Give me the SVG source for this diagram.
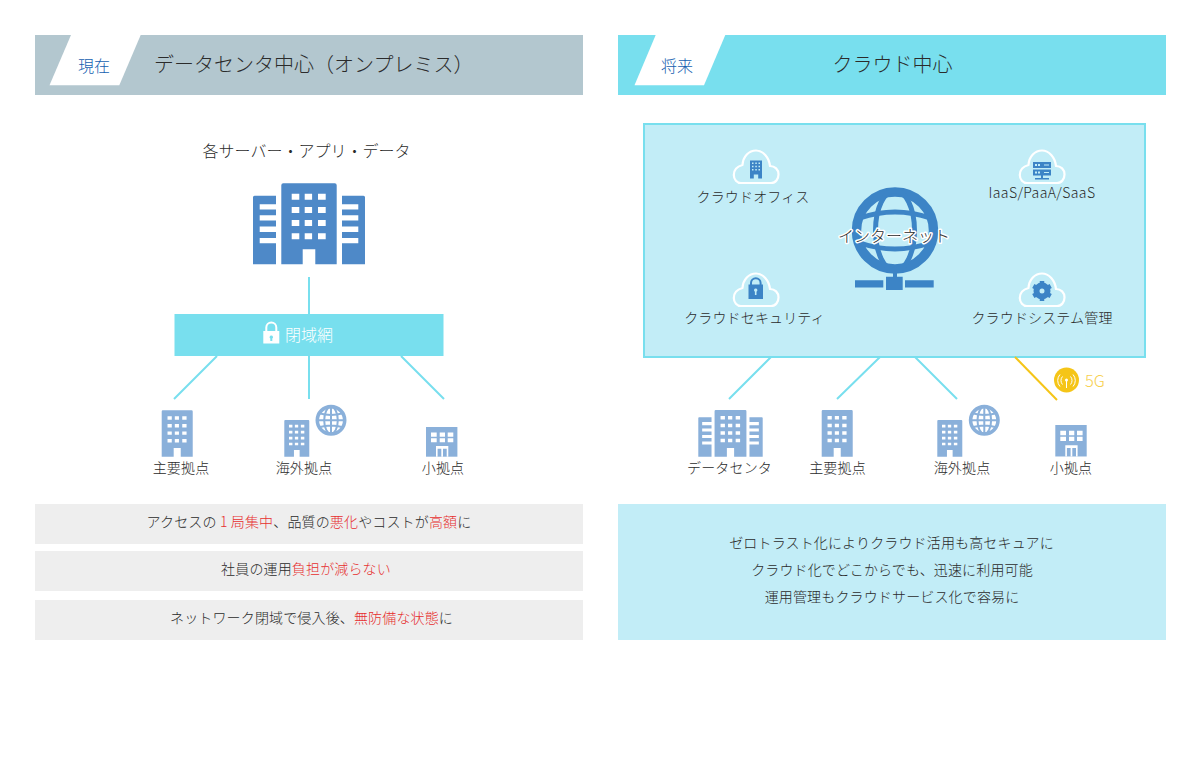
<svg xmlns="http://www.w3.org/2000/svg" width="1200" height="768" viewBox="0 0 1200 768">
<style>
text{font-family:"Noto Sans CJK JP","Noto Sans",sans-serif;font-weight:300;fill:#2b2b2b}
.m{text-anchor:middle}
.t14{font-size:14px;letter-spacing:.15px}
.t16{font-size:16px}
.t20{font-size:20px}
.tab{font-size:16px;fill:#1560b0;text-anchor:middle}
.red{fill:#e62e2e}
.c{stroke:#78dfee;stroke-width:2;fill:none}
.cloud{fill:none;stroke:#fff;stroke-width:2.2;stroke-linejoin:round}
.ic{fill:#3c84c6}
</style>
<defs>
<g id="tower">
<path d="M2 0H53.400Q55.400 0 55.400 2V81H34V66H21.400V81H0V2Q0 0 2 0Z"/>
<path fill="#fff" d="M10.400 10.500h7.600v6h-7.600zM23.400 10.500h7.400v6h-7.400zM36.700 10.500h7.700v6h-7.700zM10.400 23.800h7.600v6h-7.600zM23.400 23.800h7.400v6h-7.400zM36.700 23.800h7.700v6h-7.700zM10.400 36.800h7.600v6h-7.600zM23.400 36.800h7.400v6h-7.400zM36.700 36.800h7.700v6h-7.700zM10.400 50h7.600v6h-7.600zM23.400 50h7.400v6h-7.400zM36.700 50h7.700v6h-7.700z"/>
</g>
<g id="dc">
<use href="#tower" x="28.300"/>
<path d="M1.500 12.500H23V21H6.700V26.300H23V32H6.700V37.300H23V43.300H6.700V48.700H23V54.700H6.700V60H23V81H0V14Q0 12.500 1.500 12.500Z"/>
<path d="M89 12.500H110.500Q112 12.500 112 14V81H89V60H105.300V54.700H89V48.700H105.300V43.300H89V37.300H105.300V32H89V26.300H105.300V21H89Z"/>
</g>
<g id="small">
<path d="M0 0H31.400V29.700H0Z"/>
<path fill="#fff" d="M5 5.500h5.700v4.200h-5.700zM13.700 5.500h5.300v4.200h-5.300zM21.700 5.500h5.600v4.200h-5.600zM5 11.200h5.700v4h-5.700zM13.700 11.200h5.300v4h-5.300zM21.700 11.200h5.600v4h-5.600zM10 19H22.300V29.700H20.700V21.700H17V29.700H15.300V21.700H11.600V29.700H10Z"/>
</g>
<g id="globe">
<circle r="13.700" fill="#fff" stroke="#8ab0da" stroke-width="3.600"/>
<g fill="none" stroke="#8ab0da" stroke-width="2">
<ellipse rx="6.800" ry="13.500"/>
<path d="M0-14V14M-14 0H14M-12-7Q0-3.500 12-7M-12 7Q0 3.500 12 7"/>
</g>
</g>
<path id="cl" d="M8 33.500H38C43 33.500 45.500 29 45.500 25C45.500 20 42 16.500 37 16.500C36 8 30 1 23 1C16 1 10 7 9.500 15.500C4 17 .8 21 .8 25.500C.8 30 4 33.500 8 33.500Z"/>
</defs>

<g id="left-header">
<rect x="35" y="35" width="548" height="60" fill="#b3c7cf"/>
<polygon points="71,35 140.700,35 119.300,85.300 49.500,85.300" fill="#fff"/>
<text class="tab" x="94" y="72">現在</text>
<text class="t20" x="154" y="72">データセンタ中心（オンプレミス）</text>
</g>
<g id="right-header">
<rect x="618" y="35" width="548" height="60" fill="#78dfee"/>
<polygon points="655.700,35 725.300,35 704,85.300 634.500,85.300" fill="#fff"/>
<text class="tab" x="677" y="72">将来</text>
<text class="t20 m" x="892.500" y="72">クラウド中心</text>
</g>

<g id="cloud-panel-bg">
<rect x="644" y="124" width="501" height="233" fill="#c2edf7" stroke="#78dfee" stroke-width="2"/>
</g>

<g id="connectors">
<path class="c" d="M309 277V314M309 356V399M217 356L174 399M401 356L444 399"/>
<path class="c" d="M771 357L729 399M880 357L837 399M915 357L957 399"/>
<path d="M1015 357L1057 400" fill="none" stroke="#f5c518" stroke-width="2"/>
</g>

<g id="servers">
<text class="t16 m" x="306.500" y="157">各サーバー・アプリ・データ</text>
<use href="#dc" transform="translate(253 183.300)" fill="#4e89c8"/>
</g>

<g id="closed-network">
<rect x="174.500" y="314" width="269" height="42" fill="#78dfee"/>
<path fill="#fff" fill-rule="evenodd" d="M263.300 331H279.300V343.500H263.300ZM271.300 335.500a1.700 1.700 0 0 0-1 3.100V341h2V338.600a1.700 1.700 0 0 0-1-3.100Z"/>
<path d="M266.300 331V327.500a5 5 0 0 1 10 0V331" fill="none" stroke="#fff" stroke-width="2"/>
<text class="t16" x="285" y="341" style="fill:#fff">閉域網</text>
</g>

<g id="left-main">
<use href="#tower" transform="translate(161.700 410.300) scale(.56 .573)" fill="#8ab0da"/>
<text class="t14 m" x="181" y="473">主要拠点</text>
</g>
<g id="left-overseas">
<use href="#tower" transform="translate(284.300 420) scale(.451 .453)" fill="#8ab0da"/>
<use href="#globe" transform="translate(331 420.300)"/>
<text class="t14 m" x="304" y="473">海外拠点</text>
</g>
<g id="left-small">
<use href="#small" transform="translate(426 427)" fill="#8ab0da"/>
<text class="t14 m" x="443" y="473">小拠点</text>
</g>

<g id="internet">
<circle cx="895" cy="230.500" r="38.500" fill="none" stroke="#3c84c6" stroke-width="9.500"/>
<ellipse cx="895" cy="230.500" rx="19.500" ry="40" fill="none" stroke="#3c84c6" stroke-width="5"/>
<path d="M860 218Q895 206 930 218M860 243Q895 255 930 243" fill="none" stroke="#3c84c6" stroke-width="5"/>
<path class="ic" d="M893 268H897V276.700H902.700V290H886V276.700H893ZM855 280.300H883.300V287.500H855ZM905 280.300H933.700V287.500H905Z"/>
<text class="t16 m" x="894" y="242" style="stroke:#fff;stroke-width:3px;paint-order:stroke;stroke-linejoin:round">インターネット</text>
</g>

<g id="cloud-office">
<use href="#cl" transform="translate(733 149.500)" class="cloud"/>
<path class="ic" d="M750 160.500H762V178.500H758.200V174.500H753.800V178.500H750Z"/>
<path fill="#c2edf7" d="M752 162.500h1.500v1.500h-1.500zM755.300 162.500h1.500v1.500h-1.500zM758.500 162.500h1.500v1.500h-1.500zM752 165.700h1.500v1.500h-1.500zM755.300 165.700h1.500v1.500h-1.500zM758.500 165.700h1.500v1.500h-1.500zM752 169h1.500v1.500h-1.500zM755.300 169h1.500v1.500h-1.500zM758.500 169h1.500v1.500h-1.500z"/>
<text class="t14 m" x="753" y="202">クラウドオフィス</text>
</g>
<g id="cloud-iaas">
<use href="#cl" transform="translate(1019 149.500)" class="cloud"/>
<path class="ic" d="M1033 162H1051V168H1033ZM1033 169.500H1051V175.500H1033ZM1041 175.500H1043V178H1049V179.500H1035V178H1041Z"/>
<path fill="#c2edf7" d="M1035 164h2v2h-2zM1038 164h2v2h-2zM1044 164.500h5v1h-5zM1035 171.500h2v2h-2zM1038 171.500h2v2h-2zM1044 172h5v1h-5z"/>
<text class="t14 m" x="1042" y="198" style="letter-spacing:.4px">IaaS/PaaA/SaaS</text>
</g>
<g id="cloud-security">
<use href="#cl" transform="translate(733 272.500)" class="cloud"/>
<path class="ic" fill-rule="evenodd" d="M748.500 284.500H763V299H748.500ZM755.700 288.500a1.700 1.700 0 0 0-.8 3.200V295h1.600V291.700a1.700 1.700 0 0 0-.8-3.200Z"/>
<path d="M751 285V283a4.800 4.800 0 0 1 9.600 0V285" fill="none" stroke="#3c84c6" stroke-width="2"/>
<text class="t14 m" x="754.500" y="323">クラウドセキュリティ</text>
</g>
<g id="cloud-system">
<use href="#cl" transform="translate(1019 272.500)" class="cloud"/>
<circle cx="1042" cy="291" r="5.500" fill="none" stroke="#3c84c6" stroke-width="6"/>
<path d="M1042 281V284M1042 298V301M1033.300 286L1036 287.500M1048 294.500L1050.700 296M1033.300 296L1036 294.500M1048 287.500L1050.700 286" stroke="#3c84c6" stroke-width="4.500" fill="none"/>
<text class="t14 m" x="1042" y="323">クラウドシステム管理</text>
</g>

<g id="right-dc">
<use href="#dc" transform="translate(698.300 410) scale(.575 .577)" fill="#8ab0da"/>
<text class="t14 m" x="729.500" y="473">データセンタ</text>
</g>
<g id="right-main">
<use href="#tower" transform="translate(821.700 410) scale(.56 .577)" fill="#8ab0da"/>
<text class="t14 m" x="837.500" y="473">主要拠点</text>
</g>
<g id="right-overseas">
<use href="#tower" transform="translate(937.300 420) scale(.451 .453)" fill="#8ab0da"/>
<use href="#globe" transform="translate(984.300 420.300)"/>
<text class="t14 m" x="962" y="473">海外拠点</text>
</g>
<g id="right-small">
<use href="#small" transform="translate(1055.300 425) scale(1 1.060)" fill="#8ab0da"/>
<text class="t14 m" x="1071" y="473">小拠点</text>
</g>
<g id="badge-5g">
<circle cx="1066.500" cy="380" r="12.500" fill="#f5c518"/>
<path d="M1066.500 381V388M1062.500 376.500a6 6 0 0 0 0 8M1070.500 376.500a6 6 0 0 1 0 8M1060 374.500a9 9 0 0 0 0 12M1073 374.500a9 9 0 0 1 0 12" fill="none" stroke="#fff" stroke-width="1"/>
<circle cx="1066.500" cy="380" r="1.500" fill="#fff"/>
<text x="1085" y="387" font-size="16.500" style="fill:#f7d04e">5G</text>
</g>

<g id="left-notes">
<rect x="35" y="504" width="548" height="40" fill="#eee"/>
<rect x="35" y="551" width="548" height="40" fill="#eee"/>
<rect x="35" y="600" width="548" height="40" fill="#eee"/>
<text class="t14 m" x="309" y="527">アクセスの<tspan class="red"> 1 局集中</tspan>、品質の<tspan class="red">悪化</tspan>やコストが<tspan class="red">高額</tspan>に</text>
<text class="t14 m" x="306" y="574">社員の運用<tspan class="red">負担が減らない</tspan></text>
<text class="t14 m" x="311.500" y="623">ネットワーク閉域で侵入後、<tspan class="red">無防備な状態</tspan>に</text>
</g>
<g id="right-notes">
<rect x="618" y="504" width="548" height="136" fill="#c2edf7"/>
<text class="t14 m" x="891.500" y="548">ゼロトラスト化によりクラウド活用も高セキュアに</text>
<text class="t14 m" x="892" y="575">クラウド化でどこからでも、迅速に利用可能</text>
<text class="t14 m" x="892" y="602">運用管理もクラウドサービス化で容易に</text>
</g>
</svg>
